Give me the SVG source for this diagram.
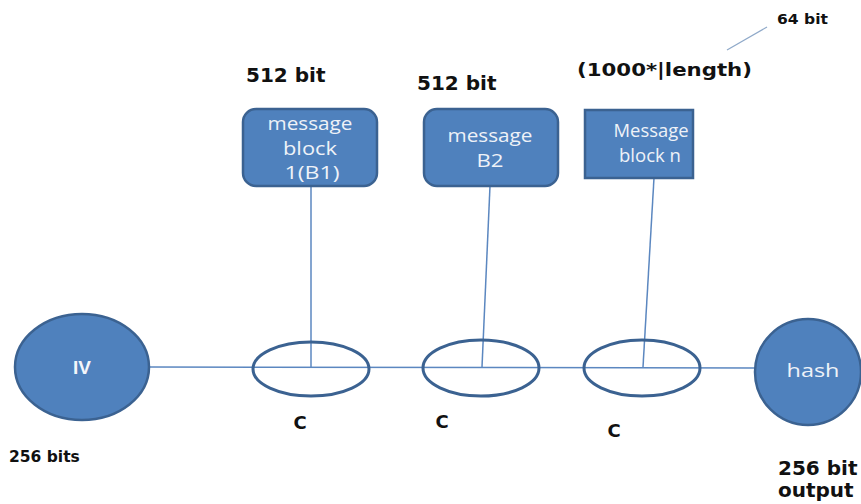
<svg xmlns="http://www.w3.org/2000/svg" width="861" height="504" viewBox="0 0 861 504">
  <style>
    .shape { fill: #4f81bd; stroke: #3b6291; stroke-width: 2.5; }
    .comp { fill: none; stroke: #3b6291; stroke-width: 3; }
    .wire { stroke: #5b87c0; stroke-width: 1.5; fill: none; }
    .inner { font-family: "Open Sans", "Liberation Sans", sans-serif; font-size: 19px; fill: #eef2f8; text-anchor: middle; }
    .label { font-family: "DejaVu Sans", "Liberation Sans", sans-serif; font-weight: bold; fill: #111; }
  </style>
  <rect width="861" height="504" fill="#ffffff"/>

  <!-- connectors -->
  <g id="connectors">
    <line class="wire" x1="150" y1="367" x2="756" y2="368"/>
    <line class="wire" x1="311" y1="186" x2="311" y2="367"/>
    <line class="wire" x1="490" y1="186" x2="482" y2="367"/>
    <line class="wire" x1="654" y1="178" x2="643" y2="367"/>
    <line x1="727" y1="50" x2="767" y2="27" stroke="#8fa9c9" stroke-width="1.2"/>
  </g>

  <!-- initial value -->
  <g id="iv">
    <ellipse class="shape" cx="82" cy="367" rx="67" ry="53"/>
    <text x="82" y="374" font-family="Liberation Sans, sans-serif" font-weight="bold" font-size="19" fill="#f4f6fa" text-anchor="middle">IV</text>
    <text class="label" x="9" y="462" font-size="15.5">256 bits</text>
  </g>

  <!-- message blocks -->
  <g id="block1">
    <rect class="shape" x="243" y="109" width="134" height="77" rx="13"/>
    <text class="inner" x="310" y="130" textLength="85" lengthAdjust="spacingAndGlyphs">message</text>
    <text class="inner" x="310" y="155" textLength="54" lengthAdjust="spacingAndGlyphs">block</text>
    <text class="inner" x="312" y="179" textLength="55" lengthAdjust="spacingAndGlyphs">1(B1)</text>
    <text class="label" x="246" y="82" font-size="20">512 bit</text>
  </g>
  <g id="block2">
    <rect class="shape" x="424" y="109" width="134" height="77" rx="13"/>
    <text class="inner" x="490" y="142" textLength="85" lengthAdjust="spacingAndGlyphs">message</text>
    <text class="inner" x="490" y="167" textLength="27" lengthAdjust="spacingAndGlyphs">B2</text>
    <text class="label" x="417" y="90" font-size="20">512 bit</text>
  </g>
  <g id="blockn">
    <rect class="shape" x="585" y="110" width="108" height="68"/>
    <text class="inner" x="651" y="137" font-size="15.5" textLength="75" lengthAdjust="spacingAndGlyphs">Message</text>
    <text class="inner" x="650" y="162" font-size="15.5" textLength="62" lengthAdjust="spacingAndGlyphs">block n</text>
    <text class="label" x="577" y="76" font-size="18" textLength="175" lengthAdjust="spacingAndGlyphs">(1000*|length)</text>
    <text class="label" x="777" y="24" font-size="14" textLength="51" lengthAdjust="spacingAndGlyphs">64 bit</text>
  </g>

  <!-- compression stages -->
  <g id="c1">
    <ellipse class="comp" cx="311" cy="369" rx="58" ry="27"/>
    <text class="label" x="300" y="429" font-size="18" text-anchor="middle">C</text>
  </g>
  <g id="c2">
    <ellipse class="comp" cx="481" cy="368" rx="58" ry="28"/>
    <text class="label" x="442" y="428" font-size="18" text-anchor="middle">C</text>
  </g>
  <g id="c3">
    <ellipse class="comp" cx="642" cy="368" rx="58" ry="28"/>
    <text class="label" x="614" y="437" font-size="18" text-anchor="middle">C</text>
  </g>

  <!-- output -->
  <g id="hash">
    <circle class="shape" cx="808" cy="372" r="53"/>
    <text class="inner" x="813" y="377" font-size="20" textLength="53" lengthAdjust="spacingAndGlyphs">hash</text>
    <text class="label" x="778" y="475" font-size="20">256 bit</text>
    <text class="label" x="778" y="497" font-size="20">output</text>
  </g>
</svg>
